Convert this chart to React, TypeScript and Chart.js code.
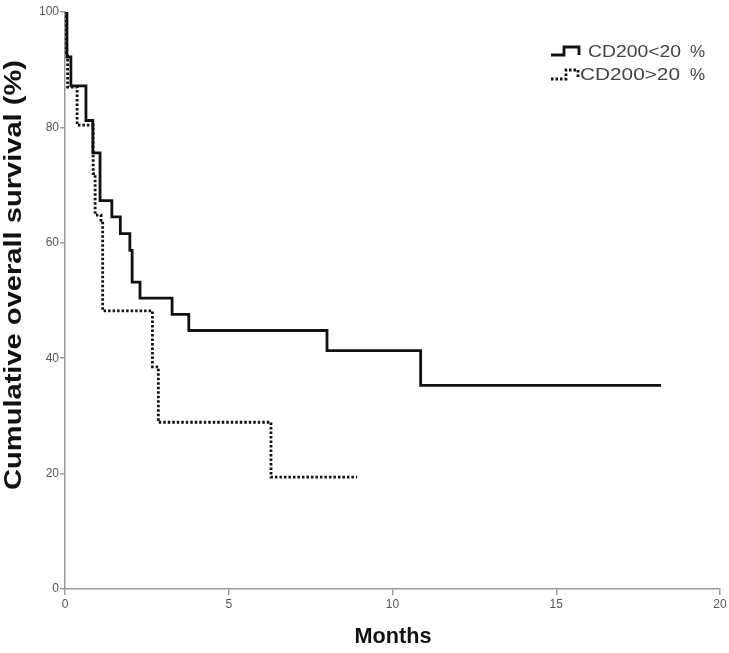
import React, { useEffect, useRef } from "react";
import { Chart, registerables } from "chart.js";

Chart.register(...registerables);

const lowMonths = [0, 0.06, 0.18, 0.64, 0.85, 1.07, 1.43, 1.69, 1.98, 2.05, 2.29, 3.27, 3.78, 8.0, 10.86, 18.2];
const lowSurvival = [100, 92.2, 87.2, 81.2, 75.6, 67.3, 64.5, 61.6, 58.7, 53.2, 50.4, 47.6, 44.8, 41.3, 35.3, 35.3];

const highMonths = [0, 0.04, 0.08, 0.37, 0.86, 0.92, 1.1, 1.15, 2.67, 2.85, 6.29, 8.92];
const highSurvival = [100, 93, 87, 80.4, 72, 64.8, 63.9, 48.2, 38.5, 28.9, 19.4, 19.4];

const xTicks = [0, 5, 10, 15, 20];
const yTicks = [0, 20, 40, 60, 80, 100];

const legendLabels = ["CD200<20", "CD200>20"];
const xTitle = "Months";
const yTitle = "Cumulative overall survival (%)";

const toPoints = (xs: number[], ys: number[]) => xs.map((x, i) => ({ x, y: ys[i] }));

const FONT = "'Liberation Sans', Arial, sans-serif";

const drawStretched = (ctx: any, text: string, x: number, y: number, targetWidth: number) => {
  const w = ctx.measureText(text).width;
  const k = targetWidth / w;
  ctx.save();
  ctx.translate(x, y);
  ctx.scale(k, 1);
  ctx.fillText(text, 0, 0);
  ctx.restore();
};

const legendPlugin = {
  id: "kmLegend",
  afterDraw(chart: any) {
    const ctx = chart.ctx;
    ctx.save();
    // row 1: solid step icon
    ctx.strokeStyle = "#111";
    ctx.lineWidth = 2.8;
    ctx.setLineDash([]);
    ctx.beginPath();
    ctx.moveTo(551, 55);
    ctx.lineTo(564, 55);
    ctx.lineTo(564, 47);
    ctx.lineTo(579, 47);
    ctx.lineTo(579, 55);
    ctx.stroke();
    // row 2: dotted step icon
    ctx.setLineDash([2.5, 2]);
    ctx.beginPath();
    ctx.moveTo(551, 79);
    ctx.lineTo(566, 79);
    ctx.lineTo(566, 70);
    ctx.lineTo(578, 70);
    ctx.lineTo(578, 79);
    ctx.stroke();
    ctx.setLineDash([]);
    ctx.fillStyle = "#444";
    ctx.font = "17px " + FONT;
    ctx.textBaseline = "middle";
    ctx.textAlign = "left";
    drawStretched(ctx, legendLabels[0], 588, 52, 93);
    drawStretched(ctx, legendLabels[1], 580, 75, 100);
    ctx.fillText("%", 690, 52);
    ctx.fillText("%", 690, 75);

    // axis titles
    ctx.fillStyle = "#111";
    ctx.font = "bold 22px " + FONT;
    ctx.textAlign = "left";
    ctx.textBaseline = "middle";
    drawStretched(ctx, xTitle, 354.5, 637, 77);
    ctx.font = "bold 24px " + FONT;
    ctx.save();
    ctx.translate(14, 275);
    ctx.rotate(-Math.PI / 2);
    drawStretched(ctx, yTitle, -215, 0, 430);
    ctx.restore();
    ctx.restore();
  },
};

export default function App() {
  const ref = useRef<HTMLCanvasElement | null>(null);
  useEffect(() => {
    if (!ref.current) return;
    const chart = new Chart(ref.current, {
      type: "line",
      data: {
        datasets: [
          {
            label: legendLabels[0],
            data: toPoints(lowMonths, lowSurvival),
            borderColor: "#111",
            borderWidth: 2.8,
            stepped: "before",
            pointRadius: 0,
            fill: false,
          },
          {
            label: legendLabels[1],
            data: toPoints(highMonths, highSurvival),
            borderColor: "#111",
            borderWidth: 2.8,
            borderDash: [2.5, 2],
            borderCapStyle: "butt",
            stepped: "before",
            pointRadius: 0,
            fill: false,
          },
        ],
      },
      options: {
        animation: false,
        responsive: false,
        maintainAspectRatio: false,
        layout: { padding: { left: 0, right: 9, top: 12, bottom: 0 } },
        plugins: { legend: { display: false }, tooltip: { enabled: false } },
        scales: {
          x: {
            type: "linear",
            min: 0,
            max: 20,
            afterBuildTicks: (s: any) => {
              s.ticks = xTicks.map((v) => ({ value: v }));
            },
            afterFit: (s: any) => {
              s.height = 64;
            },
            border: { display: true, color: "#9a9a9a", width: 1.5 },
            grid: { display: true, drawOnChartArea: false, drawTicks: true, tickLength: 6, color: "#9a9a9a", lineWidth: 1.5 },
            ticks: { color: "#555", font: { size: 12, family: FONT }, padding: 2 },
            title: { display: false, text: xTitle },
          },
          y: {
            type: "linear",
            min: 0,
            max: 100,
            afterBuildTicks: (s: any) => {
              s.ticks = yTicks.map((v) => ({ value: v }));
            },
            afterFit: (s: any) => {
              s.width = 65;
            },
            border: { display: true, color: "#9a9a9a", width: 1.5 },
            grid: { display: true, drawOnChartArea: false, drawTicks: true, tickLength: 5, color: "#9a9a9a", lineWidth: 1.5 },
            ticks: { color: "#555", font: { size: 12, family: FONT }, padding: 1 },
            title: { display: false, text: yTitle },
          },
        },
      },
      plugins: [legendPlugin],
    } as any);
    return () => chart.destroy();
  }, []);
  return (
    <div style={{ position: "fixed", left: 0, top: 0, width: 729, height: 653, background: "#fff" }}>
      <canvas ref={ref} width={729} height={653} style={{ display: "block", width: 729, height: 653 }} />
    </div>
  );
}
